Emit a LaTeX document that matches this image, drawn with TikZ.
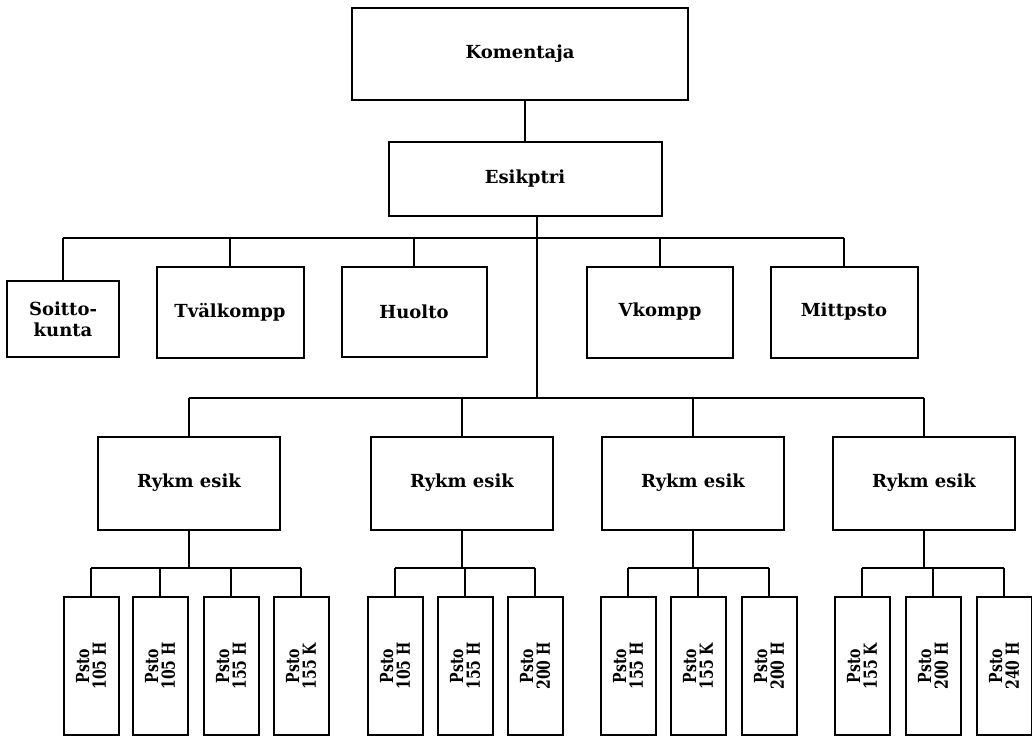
\documentclass[tikz,border=0pt]{standalone}
\usepackage{fontspec}
\setmainfont{DejaVu Serif}
\newfontfamily\pstofont[FakeStretch=0.78]{DejaVu Serif}
\usepackage{tikz}

\tikzset{
	unit/.style={draw, line width=1pt, align=center, inner sep=2pt,
		font=\fontsize{9}{10.5}\selectfont\bfseries},
	rykm/.style={unit, minimum width=91pt, minimum height=46.5pt},
	psto/.style={draw, line width=1pt, rotate=90, align=center, inner sep=1pt,
		minimum width=69pt, minimum height=27.5pt,
		font=\pstofont\fontsize{9}{8.4}\selectfont\bfseries}
}

\begin{document}
\begin{tikzpicture}[x=0.5pt, y=-0.5pt, line width=1pt]
		\useasboundingbox (0,0) rectangle (1032,738);

		\node[unit, minimum width=168pt, minimum height=46pt] (kom) at (520,54) {Komentaja};
		\node[unit, minimum width=136.5pt, minimum height=37pt] (esik) at (525,179) {Esikptri};

		\node[unit, minimum width=56pt, minimum height=38pt] (soit) at (63,319) {Soitto-\\kunta};
		\node[unit, minimum width=73.5pt, minimum height=45.5pt] (tval) at (230,312) {Tvälkompp};
		\node[unit, minimum width=72.5pt, minimum height=45pt] (huol) at (414,312) {Huolto};
		\node[unit, minimum width=73pt, minimum height=45.5pt] (vkom) at (660,312) {Vkompp};
		\node[unit, minimum width=73.5pt, minimum height=45.5pt] (mitt) at (844,312) {Mittpsto};

		\node[rykm] (r1) at (189,483) {Rykm esik};
		\node[rykm] (r2) at (462,483) {Rykm esik};
		\node[rykm] (r3) at (693,483) {Rykm esik};
		\node[rykm] (r4) at (924,483) {Rykm esik};

		% patteristot
		\node[psto] (p11) at (91,666) {Psto\\105 H};
		\node[psto] (p12) at (160,666) {Psto\\105 H};
		\node[psto] (p13) at (231,666) {Psto\\155 H};
		\node[psto] (p14) at (301,666) {Psto\\155 K};
		\node[psto] (p21) at (395,666) {Psto\\105 H};
		\node[psto] (p22) at (465,666) {Psto\\155 H};
		\node[psto] (p23) at (535,666) {Psto\\200 H};
		\node[psto] (p31) at (628,666) {Psto\\155 H};
		\node[psto] (p32) at (698,666) {Psto\\155 K};
		\node[psto] (p33) at (769,666) {Psto\\200 H};
		\node[psto] (p41) at (862,666) {Psto\\155 K};
		\node[psto] (p42) at (933,666) {Psto\\200 H};
		\node[psto] (p43) at (1004,666) {Psto\\240 H};

		\coordinate (top) at (537,238);
		\coordinate (mid) at (537,398);
		\coordinate (g1) at (189,568);
		\coordinate (g2) at (462,568);
		\coordinate (g3) at (693,568);
		\coordinate (g4) at (924,568);

		\draw (kom.south -| esik) -- (esik.north);
		\draw (esik.south -| top) -- (mid);

		\draw (soit.north |- top) -- (mitt.north |- top);
		\draw (soit.north) -- (soit.north |- top) (tval.north) -- (tval.north |- top)
			(huol.north) -- (huol.north |- top) (vkom.north) -- (vkom.north |- top)
			(mitt.north) -- (mitt.north |- top);

		\draw (r1.north |- mid) -- (r4.north |- mid);
		\draw (r1.north) -- (r1.north |- mid) (r2.north) -- (r2.north |- mid)
			(r3.north) -- (r3.north |- mid) (r4.north) -- (r4.north |- mid);

		\draw (r1.south) -- (g1) (r2.south) -- (g2) (r3.south) -- (g3) (r4.south) -- (g4);

		\draw (p11.east |- g1) -- (p14.east |- g1);
		\draw (p11.east) -- (p11.east |- g1) (p12.east) -- (p12.east |- g1)
			(p13.east) -- (p13.east |- g1) (p14.east) -- (p14.east |- g1);
		\draw (p21.east |- g2) -- (p23.east |- g2);
		\draw (p21.east) -- (p21.east |- g2) (p22.east) -- (p22.east |- g2)
			(p23.east) -- (p23.east |- g2);
		\draw (p31.east |- g3) -- (p33.east |- g3);
		\draw (p31.east) -- (p31.east |- g3) (p32.east) -- (p32.east |- g3)
			(p33.east) -- (p33.east |- g3);
		\draw (p41.east |- g4) -- (p43.east |- g4);
		\draw (p41.east) -- (p41.east |- g4) (p42.east) -- (p42.east |- g4)
			(p43.east) -- (p43.east |- g4);
	\end{tikzpicture}
\end{document}
